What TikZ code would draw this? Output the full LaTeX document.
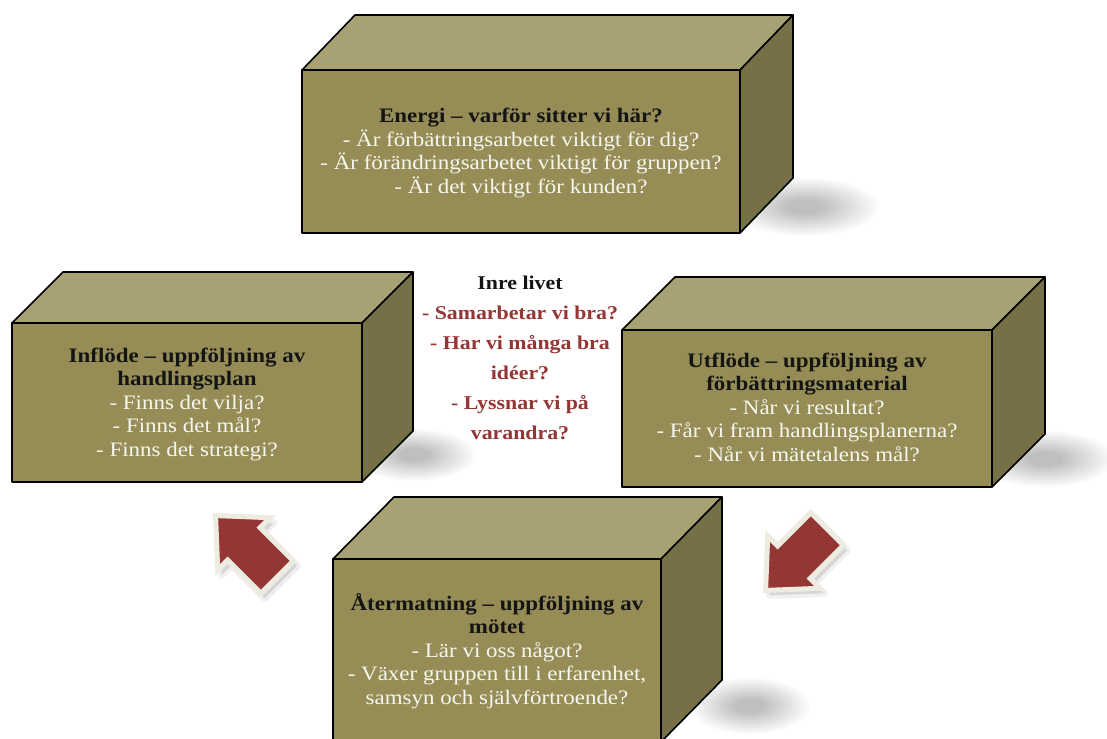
\documentclass[tikz,border=0pt]{standalone}
\usepackage{fontspec}
\setmainfont{Liberation Serif}[FakeStretch=1.12]
\usetikzlibrary{calc}

\definecolor{boxfront}{HTML}{968D56}
\definecolor{boxtop}{HTML}{A7A174}
\definecolor{boxside}{HTML}{767047}
\definecolor{arrowred}{HTML}{943634}
\definecolor{arrowrim}{HTML}{EEECE1}
\definecolor{bodytext}{HTML}{F7F6F0}
\definecolor{titletext}{HTML}{141414}

\tikzset{
  boxedge/.style={draw=black,line width=1.6pt,line join=round},
  boxtext/.style={align=center,text=bodytext,inner sep=0pt,
    font=\fontsize{20.5}{23.5}\selectfont},
  centertext/.style={align=center,text=arrowred,inner sep=0pt,
    font=\fontsize{19.5}{30}\selectfont\bfseries},
}

% olive cuboid: front face (x0,y0)-(x1,y1), depth dx to the right and dy upwards
\newcommand\olivebox[6]{%
  \filldraw[boxedge,fill=boxtop] (#1,#2) -- ({#1+#5},{#2-#6}) -- ({#3+#5},{#2-#6}) -- (#3,#2) -- cycle;
  \filldraw[boxedge,fill=boxside] (#3,#2) -- ({#3+#5},{#2-#6}) -- ({#3+#5},{#4-#6}) -- (#3,#4) -- cycle;
  \filldraw[boxedge,fill=boxfront] (#1,#2) rectangle (#3,#4);
}

% soft cast shadow: many nested ellipses, darkest in the middle
\newcommand\castshadow[4]{%
  \foreach \s in {1,0.95,...,0.2}
    \fill[black,opacity=0.016] (#1,#2) ellipse [x radius={#3*\s},y radius={#4*\s}];
}

% block arrow pointing along the local x axis, tip at the origin
\newcommand\arrowoutline{(2,0) -- (-38,37) -- (-38,23) -- (-85,23) -- (-85,-23) -- (-38,-23) -- (-38,-37) -- cycle}
\newcommand\blockarrow[3]{%
  \begin{scope}[shift={({#1+4},{#2+5})},rotate=#3]
    \fill[black,opacity=0.10] \arrowoutline;
    \draw[black,opacity=0.06,line width=7pt,line join=round] \arrowoutline;
  \end{scope}
  \begin{scope}[shift={(#1,#2)},rotate=#3]
    \filldraw[fill=arrowred,draw=arrowrim,line width=5pt,line join=miter] \arrowoutline;
  \end{scope}
}

\begin{document}
\begin{tikzpicture}[x=1pt,y=-1pt]
  \useasboundingbox (0,0) rectangle (1107,738);
  \fill[white] (0,0) rectangle (1107,738);
  \clip (0,0) rectangle (1107,738);

  % shadows behind the cuboids
  \castshadow{805}{207}{74}{29}
  \castshadow{414}{455}{62}{26}
  \castshadow{1045}{459}{70}{28}
  \castshadow{750}{706}{60}{28}

  % the four cuboids
  \olivebox{302}{70}{740}{233}{53}{55}
  \olivebox{12}{323}{362}{482}{51}{51}
  \olivebox{622}{330}{992}{487}{53}{53}
  \olivebox{333}{559}{661}{742}{61}{62}

  % arrows between the lower cuboids
  \blockarrow{217}{517}{135}
  \blockarrow{767}{589}{225}

  % texts
  \node[boxtext] (energy) at (521,153)
    {\textcolor{titletext}{\textbf{Energi – varför sitter vi här?}}\\
     - Är förbättringsarbetet viktigt för dig?\\
     - Är förändringsarbetet viktigt för gruppen?\\
     - Är det viktigt för kunden?};

  \node[boxtext] (inflow) at (187,404)
    {\textcolor{titletext}{\textbf{Inflöde – uppföljning av}}\\
     \textcolor{titletext}{\textbf{handlingsplan}}\\
     - Finns det vilja?\\
     - Finns det mål?\\
     - Finns det strategi?};

  \node[boxtext] (outflow) at (807,407)
    {\textcolor{titletext}{\textbf{Utflöde – uppföljning av}}\\
     \textcolor{titletext}{\textbf{förbättringsmaterial}}\\
     - Når vi resultat?\\
     - Får vi fram handlingsplanerna?\\
     - Når vi mätetalens mål?};

  \node[boxtext] (feedback) at (497,651)
    {\textcolor{titletext}{\textbf{Återmatning – uppföljning av}}\\
     \textcolor{titletext}{\textbf{mötet}}\\
     - Lär vi oss något?\\
     - Växer gruppen till i erfarenhet,\\
     samsyn och självförtroende?};

  \node[centertext] (innerlife) at (520,358)
    {\textcolor{titletext}{Inre livet}\\
     - Samarbetar vi bra?\\
     - Har vi många bra\\
     idéer?\\
     - Lyssnar vi på\\
     varandra?};
\end{tikzpicture}
\end{document}
